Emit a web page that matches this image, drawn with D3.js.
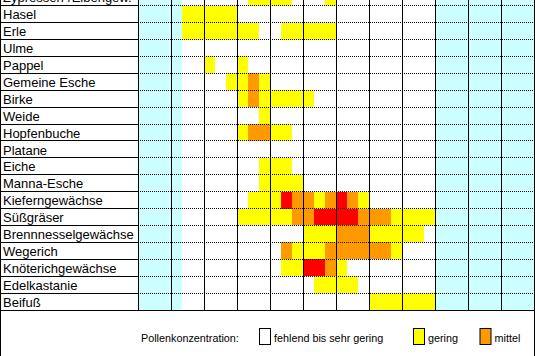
<!DOCTYPE html>
<html>
<head>
<meta charset="utf-8">
<script src="https://cdn.jsdelivr.net/npm/d3@7"></script>
<style>
  body { margin: 0; background: #fff; overflow: hidden; }
  svg { display: block; font-family: "Liberation Sans", Arial, sans-serif; }
</style>
</head>
<body>
<script>
// rows of the pollen calendar (the first one is scrolled half out of view)
var taxa = ["Zypressen-/Eibengew.", "Hasel", "Erle", "Ulme", "Pappel", "Gemeine Esche",
            "Birke", "Weide", "Hopfenbuche", "Platane", "Eiche", "Manna-Esche",
            "Kieferngewächse", "Süßgräser", "Brennnesselgewächse", "Wegerich",
            "Knöterichgewächse", "Edelkastanie", "Beifuß"];

var months = ["Jan", "Feb", "Mär", "Apr", "Mai", "Jun", "Jul", "Aug", "Sep", "Okt", "Nov", "Dez"];

// one digit per ten-day period, three per month
// 0 = fehlend bis sehr gering, 1 = gering, 2 = mittel, 3 = hoch
var levels = [
  "000 000 000 011 110 001 000 000 000 000 000 000", // Zypressen-/Eibengew.
  "000 011 111 000 000 000 000 000 000 000 000 000", // Hasel
  "000 011 111 110 011 111 000 000 000 000 000 000", // Erle
  "000 000 000 000 000 000 000 000 000 000 000 000", // Ulme
  "000 000 100 100 000 000 000 000 000 000 000 000", // Pappel
  "000 000 001 121 000 000 000 000 000 000 000 000", // Gemeine Esche
  "000 000 000 121 111 100 000 000 000 000 000 000", // Birke
  "000 000 000 001 000 000 000 000 000 000 000 000", // Weide
  "000 000 000 122 110 000 000 000 000 000 000 000", // Hopfenbuche
  "000 000 000 000 000 000 000 000 000 000 000 000", // Platane
  "000 000 000 001 110 000 000 000 000 000 000 000", // Eiche
  "000 000 000 001 111 000 000 000 000 000 000 000", // Manna-Esche
  "000 000 000 011 132 212 321 000 000 000 000 000", // Kieferngewächse
  "000 000 000 111 112 233 332 221 111 000 000 000", // Süßgräser
  "000 000 000 000 000 111 222 111 110 000 000 000", // Brennnesselgewächse
  "000 000 000 000 021 112 222 221 000 000 000 000", // Wegerich
  "000 000 000 000 011 332 100 000 000 000 000 000", // Knöterichgewächse
  "000 000 000 000 000 011 110 000 000 000 000 000", // Edelkastanie
  "000 000 000 000 000 000 000 111 111 000 000 000"  // Beifuß
];

// ten-day periods without measurements (light blue)
var noMeasurement = "111 100 000 000 000 000 000 000 000 111 111 111";

var legendTitle = "Pollenkonzentration:";
var legendLabels = ["fehlend bis sehr gering", "gering", "mittel"];

var levelColors = ["#ffffff", "#ffff00", "#ff9900", "#ff0000"];
var offColor = "#ccffff";

var width = 535, height = 356;
var labelW = 138, tableBottom = 310;
var legendX = [259, 413, 479.5];

var svg = d3.select("body").append("svg")
    .attr("width", width)
    .attr("height", height);

var decades = d3.range(months.length * 3);
var x = d3.scaleLinear().domain([0, decades.length]).range([labelW, labelW + 396]);
var y = d3.scaleBand().domain(taxa).range([-11.2, tableBottom]);

var off = noMeasurement.replace(/ /g, "").split("").map(Number);

// light blue background for periods without measurements
svg.append("g").selectAll("rect")
  .data(taxa.flatMap(function(t) {
    return decades.filter(function(i) { return off[i]; }).map(function(i) { return {t: t, i: i}; });
  }))
  .enter().append("rect")
    .attr("x", function(d) { return x(d.i); })
    .attr("y", function(d) { return y(d.t); })
    .attr("width", function(d) { return x(d.i + 1) - x(d.i); })
    .attr("height", y.bandwidth())
    .attr("shape-rendering", "crispEdges")
    .style("fill", offColor);

// concentration cells
var cells = [];
taxa.forEach(function(t, r) {
  levels[r].replace(/ /g, "").split("").forEach(function(v, i) {
    if (+v > 0) cells.push({t: t, i: i, v: +v});
  });
});

svg.append("g").selectAll("rect")
  .data(cells)
  .enter().append("rect")
    .attr("x", function(d) { return x(d.i); })
    .attr("y", function(d) { return y(d.t); })
    .attr("width", function(d) { return x(d.i + 1) - x(d.i); })
    .attr("height", y.bandwidth())
    .attr("shape-rendering", "crispEdges")
    .style("fill", function(d) { return levelColors[d.v]; });

// row separators: solid in the name column, dotted in the calendar
var rowLines = taxa.slice(1).map(function(t) { return Math.floor(y(t)) + 0.5; });

var grid = svg.append("g")
    .attr("stroke", "#000")
    .attr("shape-rendering", "crispEdges");

grid.selectAll(".solid").data(rowLines).enter().append("line")
    .attr("x1", 0).attr("x2", labelW)
    .attr("y1", function(d) { return d; }).attr("y2", function(d) { return d; });

grid.selectAll(".dotted").data(rowLines).enter().append("line")
    .attr("x1", labelW).attr("x2", width)
    .attr("y1", function(d) { return d; }).attr("y2", function(d) { return d; })
    .attr("stroke-dasharray", "1,1");

// month boundaries
grid.selectAll(".month").data(d3.range(months.length + 1)).enter().append("line")
    .attr("x1", function(m) { return Math.floor(x(m * 3)) + 0.5; })
    .attr("x2", function(m) { return Math.floor(x(m * 3)) + 0.5; })
    .attr("y1", 0).attr("y2", tableBottom);

// outer frame
grid.append("line").attr("x1", 0.5).attr("x2", 0.5).attr("y1", 0).attr("y2", height);
grid.append("line").attr("x1", width - 0.5).attr("x2", width - 0.5).attr("y1", tableBottom).attr("y2", height);
grid.append("line").attr("x1", 0).attr("x2", width).attr("y1", tableBottom + 0.5).attr("y2", tableBottom + 0.5);

// names
svg.append("g").selectAll("text")
  .data(taxa)
  .enter().append("text")
    .attr("x", 3)
    .attr("y", function(t) { return y(t) + 13.6; })
    .style("font-size", "13px")
    .text(function(t) { return t; });

// legend
var legend = svg.append("g").style("font-size", "10.8px");

legend.append("text")
    .attr("x", 141).attr("y", 341.5)
    .text(legendTitle);

var items = legend.selectAll(".item")
  .data(legendLabels)
  .enter().append("g")
    .attr("transform", function(d, i) { return "translate(" + legendX[i] + ",0)"; });

items.append("rect")
    .attr("x", 0.5).attr("y", 328.5)
    .attr("width", 11).attr("height", 16)
    .style("fill", function(d, i) { return levelColors[i]; })
    .style("stroke", "#000");

items.append("text")
    .attr("x", 15).attr("y", 341.5)
    .text(function(d) { return d; });
</script>
</body>
</html>
